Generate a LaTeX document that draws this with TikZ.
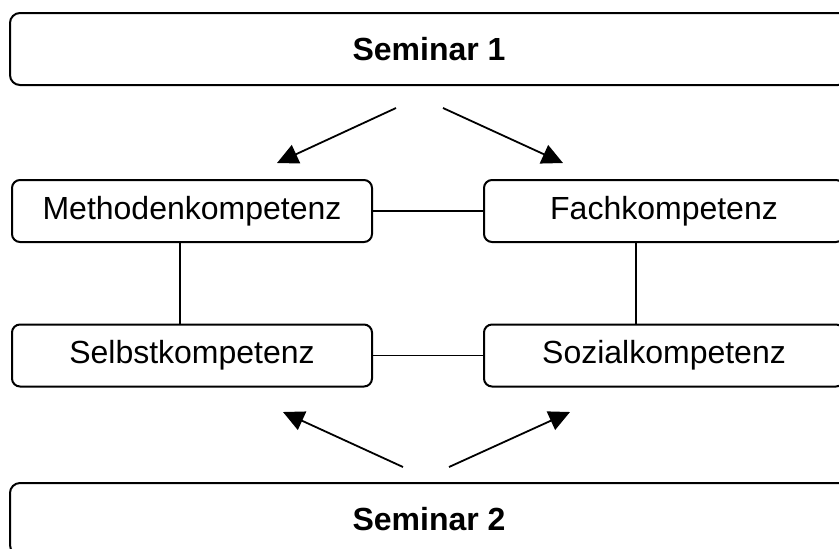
\documentclass[tikz,border=0pt]{standalone}
\usepackage{fontspec}
\setmainfont{Liberation Sans}
\usetikzlibrary{arrows.meta}

\tikzset{
  seminar/.style={draw, line width=1pt, rounded corners=5pt, minimum width=419pt,
    minimum height=36pt, inner sep=0pt, font=\fontsize{16}{19}\selectfont\bfseries},
  komp/.style={draw, line width=1pt, rounded corners=4pt, minimum width=180pt,
    minimum height=31pt, inner sep=0pt, font=\fontsize{16}{19}\selectfont},
  verbind/.style={line width=0.75pt},
  pfeil/.style={line width=0.9pt, -{Triangle[length=10.5pt,width=10pt]}}
}

\begin{document}
\begin{tikzpicture}[x=0.5pt,y=-0.5pt] % Kompetenzen zwischen den Seminaren
    \useasboundingbox (0,0) rectangle (839,548);
    \clip (0,0) rectangle (839,548);

    \node[seminar] (S1) at (429,49) {Seminar 1};
    \node[seminar] (S2) at (429,519) {Seminar 2};

    \node[komp] (M) at (192,211) {Methodenkompetenz};
    \node[komp] (F) at (664,211) {Fachkompetenz};
    \node[komp] (Se) at (192,355.5) {Selbstkompetenz};
    \node[komp] (So) at (664,355.5) {Sozialkompetenz};

    \draw[verbind] (M) -- (F);
    \draw[verbind] (Se) -- (So);
    \draw[verbind] ([xshift=-6pt]M.south) -- ([xshift=-6pt]Se.north);
    \draw[verbind] ([xshift=-14pt]F.south) -- ([xshift=-14pt]So.north);

    % Pfeile oben
    \coordinate (A1) at (396,108);
    \coordinate (A2) at (277,163);
    \coordinate (B1) at (443,108);
    \coordinate (B2) at (563,163);
    \draw[pfeil] (A1) -- (A2);
    \draw[pfeil] (B1) -- (B2);

    % Pfeile unten
    \coordinate (C1) at (403,467);
    \coordinate (C2) at (283,412);
    \coordinate (D1) at (449,467);
    \coordinate (D2) at (570,412);
    \draw[pfeil] (C1) -- (C2);
    \draw[pfeil] (D1) -- (D2);
\end{tikzpicture}
\end{document}
